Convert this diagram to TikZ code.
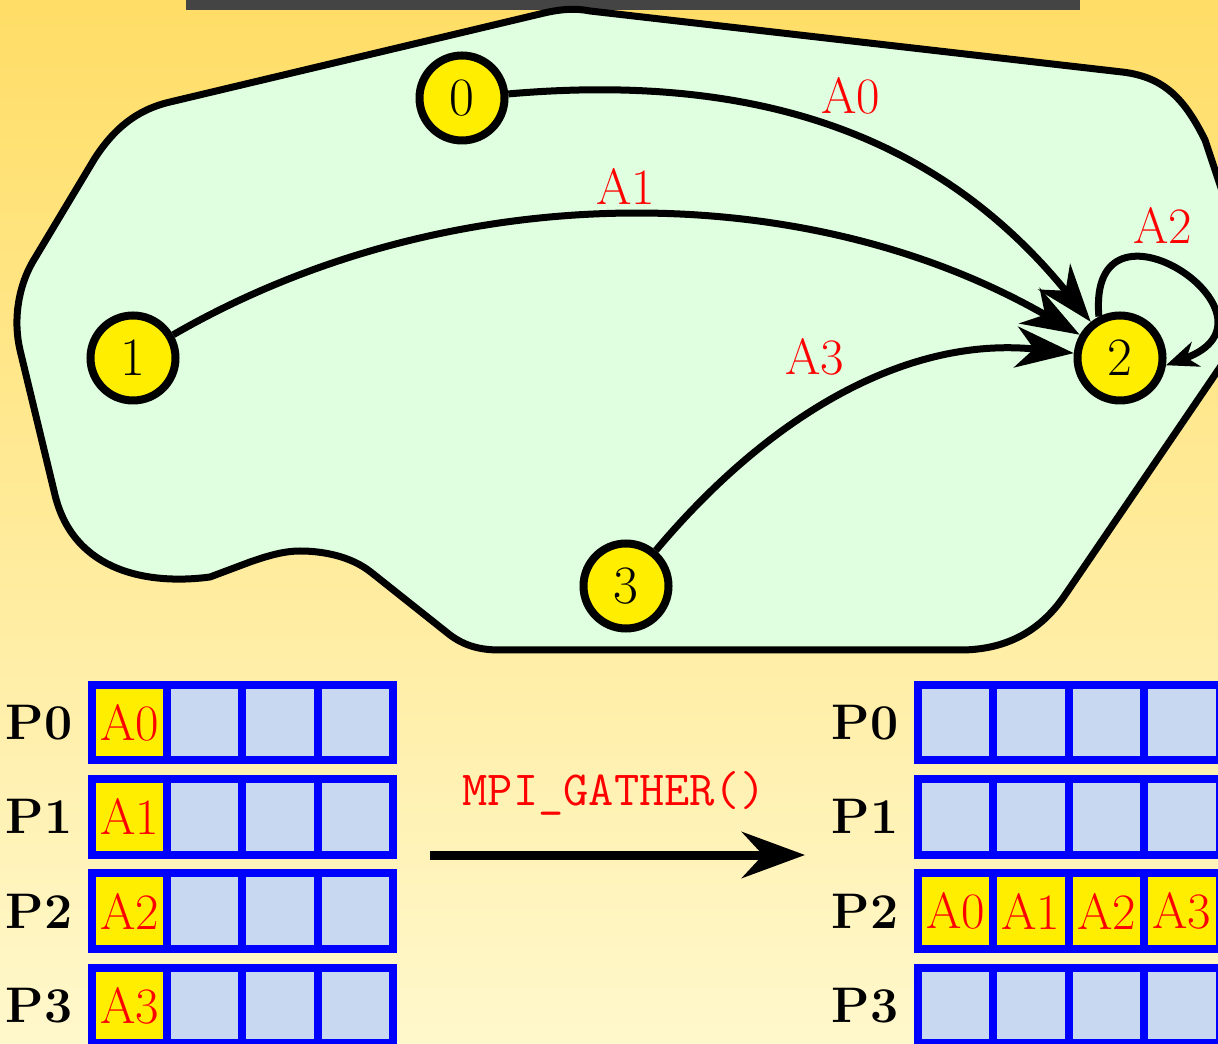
\documentclass[tikz,border=0pt]{standalone}
\usetikzlibrary{arrows.meta}
\definecolor{bgtop}{RGB}{255,221,102}
\definecolor{bgbot}{RGB}{255,248,204}
\definecolor{blobfill}{RGB}{224,255,224}
\definecolor{nodeyellow}{RGB}{255,238,0}
\definecolor{cellblue}{RGB}{200,216,240}
\definecolor{bardark}{RGB}{68,68,68}
\begin{document}
\begin{tikzpicture}[x=0.5pt,y=0.5pt,
  proc/.style={circle, draw=black, fill=nodeyellow, line width=4pt, minimum size=42.5pt, inner sep=0pt, font=\fontsize{27}{30}\selectfont},
  edgelab/.style={text=red, inner sep=0pt, font=\fontsize{25.5}{30}\selectfont},
  cell/.style={draw=blue, line width=4pt, fill=cellblue, minimum size=37.7pt, inner sep=0pt, text=red, font=\fontsize{25.5}{30}\selectfont},
  fullcell/.style={cell, fill=nodeyellow},
  plab/.style={inner sep=0pt, font=\bfseries\fontsize{25}{30}\selectfont},
  flow/.style={line width=3.5pt, -{Stealth[length=29pt,width=20.5pt,inset=9pt]}},
  selfflow/.style={line width=3.5pt, -{Stealth[length=16pt,width=13pt,inset=5pt]}},
  gatherarrow/.style={line width=4.5pt, -{Stealth[length=31.5pt,width=23pt,inset=10.5pt]}}
]
\useasboundingbox (0,0) rectangle (1218,1043);
\clip (0,0) rectangle (1218,1043);
\shade[top color=bgtop, bottom color=bgbot] (0,0) rectangle (1218,1043);
\fill[bardark] (186,1033) rectangle (1080,1043);

% blob
\draw[line width=3.5pt, line join=round, fill=blobfill]
  (170,941) -- (540,1029) .. controls (560,1034) and (575,1035) .. (590,1032)
  -- (1122,971) .. controls (1165,966) and (1185,943) .. (1205,903)
  -- (1245,783) .. controls (1260,743) and (1245,713) .. (1225,683)
  -- (1065,448) .. controls (1040,411) and (1005,393) .. (960,393)
  -- (500,393) .. controls (480,393) and (465,397) .. (450,408)
  -- (372,470) .. controls (350,488) and (320,492) .. (300,492)
  .. controls (285,492) and (270,488) .. (250,481)
  -- (210,466) .. controls (150,458) and (74,470) .. (55,548)
  -- (20,693) .. controls (13,723) and (18,758) .. (35,785)
  -- (95,885) .. controls (114,914) and (136,933) .. (170,941) -- cycle;

% processes
\node[proc] (n0) at (462,945) {0};
\node[proc] (n1) at (133,685) {1};
\node[proc] (n2) at (1120,685) {2};
\node[proc] (n3) at (626,457) {3};

\draw[flow] (n0) to[out=5, in=129] (n2);
\draw[flow] (n1) to[out=30, in=150, looseness=0.9] (n2);
\draw[flow] (n3) to[out=50, in=174, looseness=0.95] (n2);
\draw[selfflow] (n2.117) .. controls +(95:140) and +(20:140) .. (n2.-9);

\node[edgelab] (l0) at (851,947) {A0};
\node[edgelab] (l1) at (626,857) {A1};
\node[edgelab] (l2) at (1163,818) {A2};
\node[edgelab] (l3) at (815,686) {A3};

% tables
\foreach \r/\y in {0/320.5,1/226.2,2/131.9,3/37.6} {
  \node[plab] (LP\r) at (39,\y) {P\r};
  \node[plab] (RP\r) at (865,\y) {P\r};
  \node[fullcell] (L\r c0) at (129.5,\y) {A\r};
  \foreach \c in {1,2,3} {
    \node[cell] (L\r c\c) at ({129.5+75.3*\c},\y) {};
  }
}
\foreach \r/\y in {0/320.5,1/226.2,3/37.6} {
  \foreach \c in {0,1,2,3} {
    \node[cell] (R\r c\c) at ({955.5+75.5*\c},\y) {};
  }
}
\foreach \c in {0,1,2,3} {
  \node[fullcell] (R2c\c) at ({955.5+75.5*\c},131.9) {A\c};
}

\node[text=red, inner sep=0pt, font=\ttfamily\fontsize{24.5}{28}\selectfont] (mpi) at (614,250) {MPI\_GATHER()};
\coordinate (gs) at (430,188);
\coordinate (ge) at (805,188);
\draw[gatherarrow] (gs) -- (ge);
\end{tikzpicture}
\end{document}
